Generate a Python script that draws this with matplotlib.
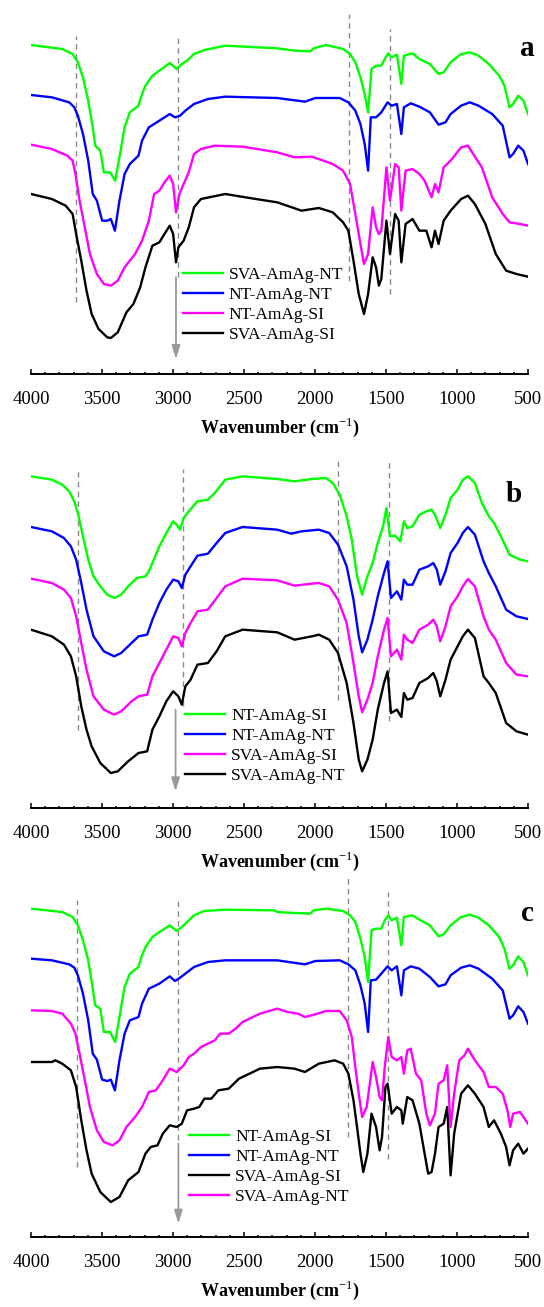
import matplotlib
matplotlib.use('Agg')
import matplotlib.pyplot as plt
from matplotlib.ticker import MultipleLocator

plt.rcParams['font.family'] = ['Liberation Serif', 'DejaVu Serif']
plt.rcParams['mathtext.fontset'] = 'custom'
plt.rcParams['mathtext.rm'] = 'Liberation Serif'
plt.rcParams['mathtext.bf'] = 'Liberation Serif:bold'

GREEN = '#00ff00'
BLUE = '#0000ff'
MAGENTA = '#ff00ff'
BLACK = '#000000'

# ---- panel a (transmittance, arbitrary offset units) ----
a_sva_nt_wn = [4000, 3780, 3707, 3670, 3634, 3597, 3565, 3548, 3512, 3487, 3443, 3407, 3377, 3341, 3304, 3243,
               3218, 3194, 3145, 3096, 3047, 3023, 2974, 2938, 2901, 2852, 2779, 2632, 2266, 2144, 2034, 2009,
               1924, 1802, 1753, 1716, 1680, 1650, 1626, 1602, 1570, 1533, 1509, 1484, 1460, 1423, 1392, 1374,
               1313, 1265, 1191, 1130, 1094, 1045, 971, 910, 849, 776, 703, 666, 630, 605, 569, 532, 500]
a_sva_nt_t = [987, 975, 960, 935, 890, 820, 740, 685, 670, 605, 605, 580, 650, 740, 785, 805,
              840, 865, 895, 910, 925, 933, 915, 930, 940, 960, 972, 985, 977, 970, 968, 977,
              987, 975, 960, 935, 890, 840, 785, 915, 925, 925, 945, 962, 950, 958, 870, 955,
              962, 945, 930, 900, 905, 935, 960, 965, 955, 930, 895, 865, 800, 810, 835, 820, 780]

a_nt_nt_wn = [4000, 3853, 3731, 3695, 3670, 3634, 3597, 3565, 3536, 3499, 3463, 3438, 3409, 3377, 3341, 3304,
              3243, 3218, 3170, 3096, 3023, 2986, 2950, 2913, 2852, 2754, 2632, 2266, 2071, 1997, 1826, 1765,
              1716, 1680, 1650, 1626, 1607, 1570, 1533, 1489, 1460, 1423, 1392, 1374, 1326, 1265, 1191, 1130,
              1081, 1045, 971, 910, 849, 752, 678, 630, 605, 569, 532, 500]
a_nt_nt_t = [837, 830, 815, 800, 775, 720, 640, 540, 520, 460, 460, 465, 430, 520, 600, 630,
             655, 700, 740, 760, 780, 770, 775, 790, 810, 825, 832, 828, 817, 828, 828, 815,
             790, 750, 690, 610, 770, 770, 785, 815, 805, 810, 720, 800, 812, 802, 785, 748,
             755, 780, 805, 815, 805, 780, 745, 650, 660, 685, 670, 630]

a_nt_si_wn = [4000, 3853, 3744, 3707, 3687, 3658, 3621, 3585, 3536, 3487, 3438, 3389, 3341, 3267, 3218, 3170,
              3133, 3096, 3060, 3023, 2999, 2979, 2955, 2925, 2889, 2852, 2803, 2706, 2510, 2266, 2144, 2022,
              1875, 1802, 1753, 1716, 1680, 1655, 1626, 1594, 1570, 1550, 1533, 1497, 1472, 1436, 1411, 1392,
              1362, 1313, 1265, 1228, 1179, 1155, 1130, 1094, 1045, 971, 923, 886, 825, 752, 678, 630, 556, 500]
a_nt_si_t = [688, 675, 655, 640, 600, 520, 440, 360, 300, 270, 265, 280, 320, 360, 400, 460,
             540, 550, 575, 595, 570, 485, 540, 570, 605, 660, 675, 685, 682, 665, 650, 652,
             630, 610, 570, 480, 390, 330, 360, 500, 440, 420, 430, 620, 520, 630, 620, 490,
             610, 615, 600, 580, 530, 570, 545, 620, 640, 680, 685, 660, 620, 530, 480, 455, 450, 445]

a_sva_si_wn = [4000, 3853, 3756, 3707, 3682, 3646, 3609, 3573, 3524, 3463, 3438, 3389, 3328, 3279, 3231, 3194,
               3145, 3096, 3060, 3023, 2999, 2979, 2962, 2925, 2889, 2852, 2803, 2632, 2461, 2266, 2095, 1973,
               1875, 1802, 1765, 1729, 1692, 1655, 1626, 1594, 1570, 1550, 1533, 1497, 1472, 1436, 1411, 1392,
               1362, 1313, 1265, 1216, 1179, 1155, 1130, 1094, 1045, 971, 923, 874, 800, 727, 654, 581, 500]
a_sva_si_t = [540, 525, 505, 480, 420, 340, 250, 180, 135, 110, 108, 125, 185, 210, 260, 320,
              385, 395, 420, 445, 420, 335, 380, 400, 440, 500, 525, 540, 528, 515, 490, 498,
              485, 455, 430, 340, 240, 180, 240, 350, 320, 265, 285, 460, 360, 480, 460, 335,
              450, 465, 430, 430, 380, 430, 390, 460, 490, 525, 535, 510, 450, 360, 310, 300, 292]

# ---- panel b ----
b_nt_si_wn = [4000, 3853, 3780, 3731, 3695, 3670, 3634, 3597, 3560, 3512, 3463, 3414, 3365, 3316, 3255, 3194,
              3170, 3145, 3096, 3047, 2999, 2974, 2950, 2925, 2889, 2828, 2754, 2706, 2632, 2510, 2266, 2144,
              2022, 1924, 1875, 1826, 1777, 1741, 1704, 1668, 1631, 1594, 1558, 1521, 1497, 1472, 1436, 1399,
              1374, 1350, 1313, 1265, 1216, 1179, 1155, 1118, 1081, 1045, 996, 959, 923, 874, 825, 776, 739,
              691, 630, 556, 500]
b_nt_si_t = [995, 985, 970, 950, 920, 885, 815, 745, 695, 665, 640, 630, 640, 665, 690, 695,
             710, 735, 785, 825, 860, 850, 835, 870, 890, 920, 925, 945, 985, 995, 987, 980,
             987, 990, 975, 940, 875, 805, 695, 640, 695, 735, 795, 845, 900, 815, 817, 800,
             860, 840, 845, 880, 890, 895, 880, 840, 880, 930, 955, 985, 995, 975, 915, 875, 855,
             815, 760, 745, 740]

b_nt_nt_wn = [4000, 3853, 3768, 3719, 3682, 3646, 3609, 3560, 3487, 3414, 3365, 3292, 3243, 3182, 3145, 3096,
              3047, 2999, 2962, 2938, 2913, 2876, 2828, 2754, 2693, 2632, 2510, 2266, 2168, 2095, 1973, 1900,
              1838, 1777, 1729, 1692, 1668, 1631, 1594, 1558, 1514, 1489, 1465, 1423, 1392, 1374, 1350, 1313,
              1265, 1203, 1167, 1142, 1118, 1081, 1045, 996, 959, 923, 874, 813, 776, 727, 654, 581, 500]
b_nt_nt_t = [843, 830, 810, 785, 745, 675, 595, 515, 470, 455, 465, 495, 515, 520, 565, 615,
             655, 685, 680, 660, 700, 725, 757, 763, 795, 825, 843, 835, 823, 830, 835, 825,
             790, 725, 625, 515, 467, 505, 565, 635, 705, 740, 630, 650, 625, 685, 670, 670,
             715, 725, 735, 715, 670, 710, 765, 795, 825, 843, 820, 740, 705, 665, 595, 575, 567]

b_sva_si_wn = [4000, 3853, 3768, 3719, 3682, 3646, 3609, 3560, 3487, 3414, 3365, 3292, 3243, 3182, 3145, 3096,
               3047, 2999, 2962, 2938, 2913, 2876, 2828, 2754, 2693, 2632, 2510, 2266, 2144, 2022, 1973, 1900,
               1838, 1777, 1729, 1692, 1668, 1631, 1594, 1558, 1514, 1489, 1465, 1423, 1392, 1374, 1350, 1313,
               1265, 1203, 1167, 1142, 1118, 1081, 1045, 996, 959, 923, 874, 813, 776, 727, 654, 581, 500]
b_sva_si_t = [688, 675, 655, 630, 575, 495, 415, 335, 295, 280, 290, 320, 335, 340, 395, 435,
              475, 515, 510, 485, 525, 555, 590, 595, 630, 665, 688, 683, 667, 673, 675, 665,
              625, 555, 435, 335, 287, 325, 375, 455, 535, 570, 455, 475, 445, 520, 505, 495,
              535, 550, 565, 545, 500, 545, 605, 635, 665, 687, 665, 575, 535, 505, 435, 400, 395]

b_sva_nt_wn = [4000, 3853, 3768, 3719, 3682, 3646, 3609, 3573, 3512, 3438, 3389, 3316, 3243, 3182, 3145, 3096,
               3047, 2999, 2962, 2938, 2913, 2876, 2828, 2754, 2693, 2632, 2510, 2266, 2144, 2022, 1973, 1900,
               1838, 1777, 1729, 1692, 1668, 1631, 1594, 1558, 1514, 1489, 1465, 1423, 1392, 1374, 1350, 1313,
               1265, 1203, 1167, 1142, 1118, 1081, 1045, 996, 959, 923, 874, 813, 776, 727, 654, 581, 500]
b_sva_nt_t = [535, 515, 490, 455, 395, 305, 235, 185, 135, 105, 110, 140, 165, 170, 235, 275,
              320, 350, 335, 310, 365, 385, 430, 435, 470, 515, 535, 527, 505, 515, 520, 505,
              465, 375, 255, 145, 110, 145, 205, 295, 375, 410, 285, 295, 273, 345, 325, 330,
              375, 390, 405, 380, 335, 385, 445, 485, 515, 535, 510, 395, 375, 345, 255, 230, 220]

# ---- panel c ----
c_nt_si_wn = [4000, 3780, 3707, 3670, 3634, 3597, 3565, 3548, 3512, 3487, 3443, 3407, 3377, 3341, 3304, 3243,
              3218, 3194, 3145, 3096, 3023, 2974, 2938, 2901, 2852, 2779, 2632, 2290, 2266, 2144, 2034, 2009,
              1924, 1802, 1753, 1716, 1680, 1650, 1626, 1602, 1570, 1533, 1509, 1484, 1460, 1423, 1392, 1374,
              1313, 1265, 1191, 1130, 1094, 1045, 971, 910, 849, 776, 703, 666, 630, 605, 569, 532, 500]
c_nt_si_t = [985, 975, 960, 935, 890, 830, 745, 695, 685, 615, 615, 585, 660, 750, 790, 810,
             845, 870, 900, 915, 935, 918, 930, 945, 965, 978, 982, 980, 975, 972, 970, 980,
             985, 978, 965, 945, 895, 840, 765, 920, 925, 925, 950, 965, 950, 958, 875, 960,
             965, 952, 935, 902, 908, 935, 960, 967, 958, 935, 900, 865, 805, 815, 842, 825, 785]

c_nt_nt_wn = [4000, 3853, 3731, 3695, 3670, 3634, 3597, 3565, 3536, 3499, 3463, 3438, 3409, 3377, 3341, 3304,
              3243, 3218, 3170, 3096, 3023, 2986, 2950, 2913, 2852, 2754, 2632, 2266, 2071, 1997, 1826, 1765,
              1716, 1680, 1650, 1626, 1607, 1570, 1533, 1489, 1460, 1423, 1392, 1374, 1326, 1265, 1191, 1130,
              1081, 1045, 971, 910, 849, 752, 678, 630, 605, 569, 532, 500]
c_nt_nt_t = [835, 830, 818, 808, 785, 730, 650, 550, 532, 472, 468, 472, 440, 530, 610, 650,
             660, 700, 745, 760, 782, 768, 778, 790, 810, 825, 830, 830, 818, 828, 830, 818,
             800, 755, 700, 615, 770, 772, 790, 812, 800, 812, 725, 800, 812, 805, 780, 752,
             758, 785, 808, 815, 805, 775, 740, 655, 665, 692, 675, 640]

c_sva_si_wn = [4000, 3853, 3829, 3780, 3719, 3682, 3646, 3609, 3573, 3512, 3438, 3377, 3316, 3243, 3194, 3157,
               3109, 3072, 3023, 2974, 2938, 2901, 2852, 2815, 2779, 2730, 2681, 2608, 2535, 2388, 2266, 2144,
               2071, 1973, 1863, 1802, 1765, 1729, 1704, 1680, 1660, 1631, 1602, 1570, 1545, 1528, 1504, 1489,
               1460, 1423, 1392, 1382, 1350, 1313, 1265, 1228, 1203, 1179, 1155, 1130, 1094, 1069, 1045, 1020,
               971, 923, 874, 813, 776, 739, 691, 654, 630, 605, 569, 532, 500]
c_sva_si_t = [525, 525, 530, 520, 500, 450, 350, 260, 190, 135, 105, 120, 170, 195, 250, 270,
              275, 310, 335, 330, 340, 380, 385, 390, 415, 415, 440, 445, 475, 505, 510, 505,
              495, 520, 530, 520, 490, 410, 330, 250, 195, 250, 370, 330, 260, 300, 450, 460,
              370, 390, 380, 340, 420, 410, 340, 250, 190, 195, 250, 330, 340, 390, 185, 310,
              430, 455, 430, 390, 330, 350, 310, 270, 215, 260, 280, 250, 265]

c_sva_nt_wn = [4000, 3853, 3780, 3719, 3687, 3658, 3621, 3585, 3536, 3487, 3426, 3377, 3328, 3267, 3218, 3170,
               3121, 3072, 3023, 2974, 2925, 2889, 2852, 2803, 2754, 2706, 2669, 2608, 2559, 2510, 2388, 2266,
               2193, 2119, 2071, 1997, 1924, 1826, 1777, 1741, 1716, 1692, 1668, 1636, 1594, 1570, 1545, 1528,
               1509, 1484, 1460, 1423, 1392, 1374, 1350, 1326, 1289, 1252, 1216, 1191, 1155, 1130, 1094, 1069,
               1045, 1020, 984, 947, 923, 874, 813, 776, 727, 678, 642, 625, 605, 556, 500]
c_sva_nt_t = [680, 678, 670, 640, 610, 550, 470, 390, 320, 285, 275, 290, 330, 360, 390, 435,
              440, 470, 505, 495, 515, 540, 550, 570, 580, 590, 610, 610, 625, 645, 670, 685,
              675, 670, 660, 668, 678, 678, 650, 600, 510, 430, 360, 390, 525, 480, 420, 410,
              510, 600, 540, 530, 540, 490, 560, 565, 490, 470, 370, 335, 370, 460, 470, 515,
              330, 430, 530, 545, 565, 530, 495, 450, 450, 430, 375, 330, 370, 375, 340]

labels_a = ['SVA-AmAg-NT', 'NT-AmAg-NT', 'NT-AmAg-SI', 'SVA-AmAg-SI']
labels_b = ['NT-AmAg-SI', 'NT-AmAg-NT', 'SVA-AmAg-SI', 'SVA-AmAg-NT']
labels_c = ['NT-AmAg-SI', 'NT-AmAg-NT', 'SVA-AmAg-SI', 'SVA-AmAg-NT']

# guide lines: wavenumber, lower end, upper end
guides_a = [(3682, 215, 1015), (2967, 290, 1015), (1760, 280, 1080), (1472, 240, 1035)]
guides_b = [(3670, 235, 1017), (2933, 305, 1017), (1838, 325, 1045), (1479, 260, 1045)]
guides_c = [(3678, 210, 1010), (2962, 290, 1010), (1765, 300, 1080), (1484, 235, 1035)]

panels = [
    dict(letter='a', bottom=1 - 374 / 1307, letter_xy=(0.998, 0.869),
         series=[(a_sva_nt_wn, a_sva_nt_t, GREEN, labels_a[0]),
                 (a_nt_nt_wn, a_nt_nt_t, BLUE, labels_a[1]),
                 (a_nt_si_wn, a_nt_si_t, MAGENTA, labels_a[2]),
                 (a_sva_si_wn, a_sva_si_t, BLACK, labels_a[3])],
         guides=guides_a, arrow=(2979, 290, 45), legend_at=(2930, 322)),
    dict(letter='b', bottom=1 - 808 / 1307, letter_xy=(0.972, 0.837),
         series=[(b_nt_si_wn, b_nt_si_t, GREEN, labels_b[0]),
                 (b_nt_nt_wn, b_nt_nt_t, BLUE, labels_b[1]),
                 (b_sva_si_wn, b_sva_si_t, MAGENTA, labels_b[2]),
                 (b_sva_nt_wn, b_sva_nt_t, BLACK, labels_b[3])],
         guides=guides_b, arrow=(2982, 295, 50), legend_at=(2915, 300)),
    dict(letter='c', bottom=1 - 1237 / 1307, letter_xy=(0.998, 0.866),
         series=[(c_nt_si_wn, c_nt_si_t, GREEN, labels_c[0]),
                 (c_nt_nt_wn, c_nt_nt_t, BLUE, labels_c[1]),
                 (c_sva_si_wn, c_sva_si_t, BLACK, labels_c[2]),
                 (c_sva_nt_wn, c_sva_nt_t, MAGENTA, labels_c[3])],
         guides=guides_c, arrow=(2962, 280, 40), legend_at=(2885, 325)),
]

fig = plt.figure(figsize=(5.44, 13.07), dpi=100)

for p in panels:
    ax = fig.add_axes([31 / 544, p['bottom'], 497 / 544, 374 / 1307])
    for wn, lo, hi in p['guides']:
        ax.plot([wn, wn], [lo, hi], color='#8a8a8a', lw=1.0, ls=(0, (4, 3)), zorder=1)
    for wn, t, color, label in p['series']:
        ax.plot(wn, t, color=color, lw=1.7, label=label, zorder=2)

    x_arrow, y_start, y_end = p['arrow']
    ax.annotate('', xy=(x_arrow, y_end), xytext=(x_arrow, y_start),
                arrowprops=dict(arrowstyle='-|>,head_width=0.25,head_length=0.8', color='#9a9a9a',
                                lw=1.3, shrinkA=0, shrinkB=0), zorder=1)

    ax.legend(loc='upper left', bbox_to_anchor=p['legend_at'], bbox_transform=ax.transData,
              frameon=False, fontsize=12.5, borderpad=0, borderaxespad=0, handlelength=2.3,
              handletextpad=0.35, labelspacing=0.22)

    ax.text(*p['letter_xy'], p['letter'], transform=ax.transAxes, ha='center', va='center',
            fontsize=21, fontweight='bold')

    ax.set_xlim(4000, 500)
    ax.set_ylim(0, 1122)
    for side in ['left', 'right', 'top']:
        ax.spines[side].set_visible(False)
    ax.spines['bottom'].set_linewidth(1.4)
    ax.set_yticks([])
    ax.xaxis.set_major_locator(MultipleLocator(500))
    ax.xaxis.set_minor_locator(MultipleLocator(100))
    ax.tick_params(axis='x', which='major', direction='in', length=3.6, width=1.1, labelsize=13.5, pad=12)
    ax.tick_params(axis='x', which='minor', direction='in', length=1.8, width=1.1)
    ax.set_xlabel(r'Wavenumber (cm$^{-1}$)', fontsize=13, fontweight='bold', labelpad=6)
    ax.patch.set_alpha(0)

fig.savefig('out.png', dpi=100)
